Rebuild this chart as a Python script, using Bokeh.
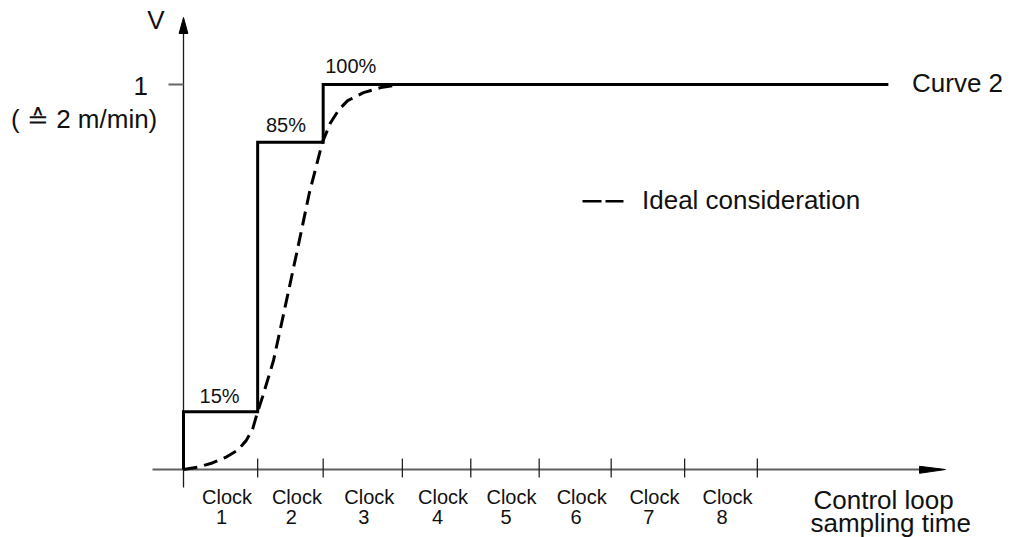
from bokeh.plotting import figure
from bokeh.models import Range1d
from bokeh.core.properties import value
from bokeh.embed import file_html
from bokeh.resources import INLINE

# ---------------- data ----------------
clock_names = ["Clock"] * 8
clock_numbers = ["1", "2", "3", "4", "5", "6", "7", "8"]
# clock boundaries on the time axis (unit = one nominal clock)
clock_edges = [0.0, 1.03, 1.94, 3.04, 3.99, 4.94, 5.94, 6.96, 7.97]

# stepped set-point (Curve 2), V relative to 1 (= 2 m/min)
step_x = [0.0, 0.0, 1.03, 1.03, 1.94, 1.94, 9.79]
step_y = [0.0, 0.15, 0.15, 0.85, 0.85, 1.0, 1.0]
step_labels = ["15%", "85%", "100%"]

# ideal (continuous) consideration
ideal_x = [0.0, 0.2, 0.4, 0.6, 0.75, 0.87, 0.96, 1.03, 1.1, 1.25, 1.41,
           1.58, 1.75, 1.93, 2.04, 2.16, 2.28, 2.5, 2.74, 3.0]
ideal_y = [0.0, 0.006, 0.017, 0.033, 0.05, 0.075, 0.105, 0.15, 0.19, 0.283,
           0.421, 0.569, 0.72, 0.85, 0.9, 0.935, 0.958, 0.979, 0.992, 1.0]

y_tick_value = 1.0
y_tick_label = "1"
y_unit_label = "( \u2259  2 m/min)"
y_axis_title = "V"
x_axis_title = ["Control loop", "sampling time"]
curve_label = "Curve 2"
legend_label = "Ideal consideration"

# ---------------- layout helpers (page pixel -> data) ----------------
W, H = 1017, 537
PX0, UX = 183.0, 72.0     # page x of t = 0, pixels per clock
PY0, UY = 469.0, 385.0    # page y of V = 0, pixels per unit V


def X(px):
    return (px - PX0) / UX


def Y(py):
    return (PY0 - py) / UY


FONT = value("Liberation Sans")
BIG = 26
SMALL = 20
CAP = 0.358   # half cap height (em) : text is anchored at its cap centre

p = figure(width=W, height=H,
           x_range=Range1d(X(0), X(W)),
           y_range=Range1d(Y(H), Y(0)),
           output_backend="svg", toolbar_location=None,
           x_axis_type=None, y_axis_type=None, min_border=0)
p.outline_line_color = None
p.background_fill_color = "white"
p.border_fill_color = "white"

# ---------------- axes drawn by hand (with arrows) ----------------
p.line([X(152), X(921)], [0, 0], line_color="#5f5f5f", line_width=2)
p.patch([X(919), X(945), X(919)], [Y(465.8), 0, Y(472.8)],
        fill_color="black", line_color="black", line_width=1)

p.line([0, 0], [Y(487), Y(31)], line_color="#1a1a1a", line_width=1.3)
p.patch([X(178.6), 0, X(187.4)], [Y(33), Y(17), Y(33)],
        fill_color="black", line_color="black", line_width=1)

# y tick at 1
p.line([X(168), 0], [y_tick_value, y_tick_value], line_color="#666666", line_width=2)

# x ticks at the clock boundaries
p.segment(x0=clock_edges[1:], y0=[Y(458)] * 8, x1=clock_edges[1:], y1=[Y(477)] * 8,
          line_color="#222222", line_width=1.3)

# ---------------- curves ----------------
p.line(ideal_x, ideal_y, line_color="black", line_width=3, line_dash="14 7",
       line_join="round")
p.line(step_x, step_y, line_color="black", line_width=3, line_join="miter",
       line_cap="butt")

# legend sample for the ideal curve
p.line([X(582), X(623)], [Y(200.7), Y(200.7)], line_color="black",
       line_width=2.6, line_dash="19 4")


# ---------------- texts ----------------
def txt(x, base_py, t, size, align):
    """x in data units, base_py = page y of the text baseline."""
    p.text(x=[x], y=[Y(base_py - CAP * size)], text=[t], text_font=FONT,
           text_font_size=f"{size}px", text_align=align,
           text_baseline="alphabetic", text_color="#111111")


def lvl(v):
    """page y of a data level."""
    return PY0 - v * UY


mids = [(clock_edges[i] + clock_edges[i + 1]) / 2 for i in range(8)]
p.text(x=[m + 6.5 / UX for m in mids], y=[Y(503.3 - CAP * SMALL)] * 8, text=clock_names,
       text_font=FONT, text_font_size=f"{SMALL}px", text_align="center",
       text_baseline="alphabetic", text_color="#111111")
p.text(x=[m + 1.0 / UX for m in mids], y=[Y(524 - CAP * SMALL)] * 8, text=clock_numbers,
       text_font=FONT, text_font_size=f"{SMALL}px", text_align="center",
       text_baseline="alphabetic", text_color="#111111")

# step level labels
txt((step_x[1] + step_x[2]) / 2 - 1 / UX, lvl(step_y[1]) - 9, step_labels[0], SMALL, "center")
txt((step_x[3] + step_x[4]) / 2 - 4.5 / UX, lvl(step_y[3]) - 10, step_labels[1], SMALL, "center")
txt(step_x[5] + 2 / UX, lvl(step_y[5]) - 11, step_labels[2], SMALL, "left")

txt(X(155.5), 29, y_axis_title, BIG, "center")
txt(X(147.5), 95, y_tick_label, BIG, "right")
txt(X(164), 128, y_unit_label, BIG, "right")
txt(X(911.5), 92, curve_label, BIG, "left")
txt(X(641.5), 209.3, legend_label, BIG, "left")
txt(X(813), 509, x_axis_title[0], BIG, "left")
txt(X(810), 532, x_axis_title[1], BIG, "left")

open("out.html", "w").write(file_html(p, INLINE))
